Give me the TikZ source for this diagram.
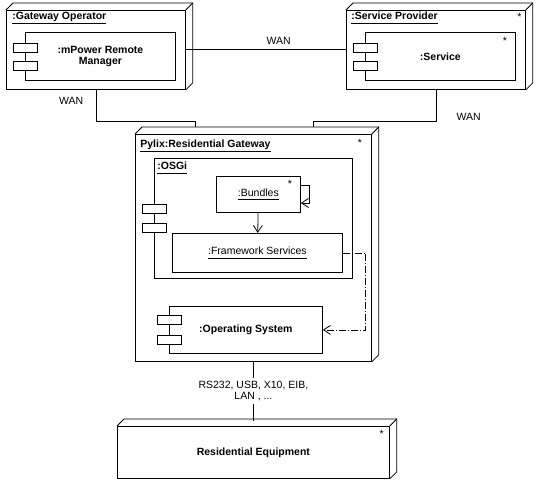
\documentclass[tikz,border=0pt]{standalone}
\usepackage{fontspec}
\setmainfont{Liberation Sans}
\usetikzlibrary{calc,arrows.meta}
\newcommand{\NodeDepth}{7}
\newcommand{\ulname}[1]{\underline{#1\vphantom{y}}}
\newcommand{\nodeside}[1]{%
  \draw (#1.north west) -- ++(\NodeDepth,-\NodeDepth) -- ($(#1.north east)+(\NodeDepth,-\NodeDepth)$) -- ($(#1.south east)+(\NodeDepth,-\NodeDepth)$) -- (#1.south east);
  \draw (#1.north east) -- ++(\NodeDepth,-\NodeDepth);}
\newcommand{\ports}[3]{%
  \node[port] (#1-p1) at ($(#1.north west)+(0,#2)$) {};
  \node[port] (#1-p2) at ($(#1.north west)+(0,#3)$) {};}

\tikzset{
  every node/.style={font=\fontsize{10.5}{11}\selectfont},
  bold/.style={font=\fontsize{10.5}{11}\selectfont\bfseries},
  box/.style 2 args={draw, rectangle, anchor=north west, inner sep=0pt, minimum width=#1, minimum height=#2, align=center},
  port/.style={draw, fill=white, rectangle, inner sep=0pt, minimum width=24, minimum height=9},
  title/.style={anchor=base west, inner sep=0pt, bold},
  star/.style={anchor=base, inner sep=0pt},
  open/.style={-{Straight Barb[length=7pt,width=9pt]}},
  dashdot/.style={dash pattern=on 7pt off 2pt on 1pt off 2pt},
}

\begin{document}
\begin{tikzpicture}[x=1pt,y=-1pt,line width=0.8pt]
  \useasboundingbox (0,0) rectangle (541,500);

  % gateway operator
  \node[box={179}{79}] (gwop) at (6,10) {};
  \nodeside{gwop}
  \node[title] (gwop-title) at (12,20) {\ulname{:Gateway Operator}};
  \node[box={150}{48}, bold] (mpower) at (25,32) {:mPower Remote\\Manager};
  \ports{mpower}{15.5}{34}

  % service provider
  \node[box={179}{79}] (provider) at (346,10) {};
  \nodeside{provider}
  \node[title] (provider-title) at (351,20) {\ulname{:Service Provider}};
  \node[star] (provider-star) at (519.5,20.5) {*};
  \node[box={150}{48}, bold] (service) at (365,32) {:Service};
  \ports{service}{15.5}{34}
  \node[star] (service-star) at (505,45) {*};

  % residential gateway
  \node[box={236}{227}] (gateway) at (135,134) {};
  \nodeside{gateway}
  \node[title] (gateway-title) at (140,148) {\ulname{Pylix:Residential Gateway}};
  \node[star] (gateway-star) at (360,147) {*};
  \node[box={198}{120}] (osgi) at (154,158) {};
  \node[title] (osgi-title) at (157,170) {\ulname{:OSGi}};
  \ports{osgi}{50.5}{69.5}
  \node[box={84}{36}] (bundles) at (216,176) {\ulname{:Bundles}};
  \node[star] (bundles-star) at (290,187) {*};
  \node[box={170}{39}] (fwservices) at (172,233) {\ulname{:Framework Services}};
  \node[box={153}{47}, bold] (opsys) at (169,306) {:Operating System};
  \ports{opsys}{14}{33.5}

  % residential equipment
  \node[box={272}{52}, bold] (equipment) at (117,426) {Residential Equipment};
  \nodeside{equipment}
  \node[star] (equipment-star) at (381.6,437) {*};

  % connectors
  \coordinate (gwin-left) at (195,127);
  \coordinate (gwin-right) at (313,127);
  \coordinate (eqin) at ($(gateway.south)+(0,59)$);
  \draw (gwop) -- node[pos=0.58, above=2pt] {WAN} (provider);
  \draw (gwop.south) -- node[pos=0.35, left=9pt] {WAN} ++(0,32) -| (gwin-left);
  \draw (provider.south) -- node[pos=0.85, right=17pt] {WAN} ++(0,32) -| (gwin-right);
  \draw (gateway.south) -- node[fill=white, align=center] {RS232, USB, X10, EIB,\\LAN , ...} (eqin);
  \draw[open] ($(bundles.north east)+(0,9)$) -- ++(9,0) -- ++(0,18) -- ($(bundles.north east)+(0,27)$);
  \draw[open] (bundles) -- (fwservices);
  \draw[open, dashdot] (fwservices.east) -- ++(23,0) |- (opsys.east);
\end{tikzpicture}
\end{document}
